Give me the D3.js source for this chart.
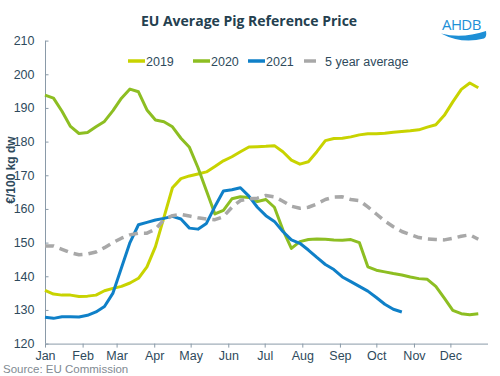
<!DOCTYPE html>
<html>
<head>
    <meta charset="utf-8">
    <script src="https://cdn.jsdelivr.net/npm/d3@7"></script>
    <style>
        body { margin: 0; background: #fff; }
        svg text { font-family: "Liberation Sans", Arial, sans-serif; }
    </style>
</head>
<body>
    <div id="chart">
        <svg width="500" height="376"></svg>
    </div>
    <script>
        // weekly prices, EUR / 100 kg dw
        var weeks = d3.range(1, 53)
        var months = ["Jan", "Feb", "Mar", "Apr", "May", "Jun", "Jul", "Aug", "Sep", "Oct", "Nov", "Dec"]
        var yTicks = [120, 130, 140, 150, 160, 170, 180, 190, 200, 210]

        var p2019 = [135.8, 134.7, 134.4, 134.4, 134.0, 134.1, 134.4, 135.7, 136.4, 137.0,
            138.0, 139.4, 142.8, 148.8, 157.5, 166.3, 169.0, 169.8, 170.4, 171.0,
            172.6, 174.3, 175.5, 177.0, 178.4, 178.5, 178.6, 178.8, 177.0, 174.5,
            173.3, 174.0, 177.0, 180.3, 180.9, 181.0, 181.4, 182.0, 182.3, 182.3,
            182.5, 182.8, 183.0, 183.2, 183.5, 184.3, 185.0, 187.8, 191.8, 195.5,
            197.4, 196.0]
        var p2020 = [193.8, 192.9, 189.0, 184.5, 182.4, 182.7, 184.4, 186.0, 189.2, 192.9,
            195.6, 194.8, 189.4, 186.4, 185.9, 184.4, 181.0, 178.3, 172.3, 165.4,
            158.5, 159.6, 163.0, 163.6, 163.4, 162.2, 162.8, 160.5, 153.8, 148.3,
            150.3, 150.9, 151.1, 151.0, 150.8, 150.7, 150.9, 150.0, 142.8, 141.8,
            141.3, 140.8, 140.4, 139.8, 139.3, 139.1, 137.0, 133.5, 129.9, 128.9,
            128.6, 128.9]
        var p2021 = [127.8, 127.5, 128.0, 128.0, 127.9, 128.4, 129.4, 131.0, 135.0, 142.5,
            150.0, 155.3, 156.0, 156.7, 157.2, 157.8, 157.0, 154.3, 154.0, 155.7,
            160.7, 165.3, 165.7, 166.3, 163.8, 160.5, 158.0, 156.3, 153.3, 150.8,
            149.8, 147.8, 145.6, 143.5, 142.0, 139.8, 138.4, 137.0, 135.6, 133.7,
            131.7, 130.2, 129.4]
        var avg5 = [149.0, 149.0, 148.0, 147.0, 146.4, 146.6, 147.2, 148.5, 150.0, 151.3,
            152.3, 152.8, 152.8, 154.0, 156.8, 158.0, 158.4, 157.9, 157.4, 157.0,
            156.8, 157.7, 160.5, 162.5, 163.0, 163.2, 164.0, 163.6, 162.3, 160.8,
            160.2, 160.5, 161.5, 162.8, 163.5, 163.6, 162.8, 162.5, 160.6, 158.5,
            156.4, 154.7, 153.3, 152.4, 151.5, 151.1, 150.9, 150.8, 151.3, 151.9,
            152.3, 151.0]

        var series = [
            { name: "2019", values: p2019, color: "#c8d300", dash: null },
            { name: "2020", values: p2020, color: "#8dbe22", dash: null },
            { name: "2021", values: p2021, color: "#0f80c8", dash: null },
            { name: "5 year average", values: avg5, color: "#a8a8a8", dash: "9,6" }
        ]

        var svg = d3.select("#chart svg")
        var textCol = "#2e4a5c"

        // week n starts 7*(n-1) days after 1 Jan
        var start = new Date(2021, 0, 1)
        function weekDate(w) {
            return d3.timeDay.offset(start, (w - 1) * 7)
        }

        var x = d3.scaleTime()
            .domain([start, new Date(2022, 0, 1)])
            .range([45, 488])
        var y = d3.scaleLinear()
            .domain([120, 210])
            .range([343.6, 40.6])

        // axes
        var xAxis = d3.axisBottom(x)
            .tickValues(d3.timeMonth.range(start, new Date(2022, 0, 1)))
            .tickFormat(function(d, i) { return months[i] })
            .tickSize(4)
            .tickPadding(4)
        var gx = svg.append("g")
            .attr("transform", "translate(0,343.6)")
            .call(xAxis)
        gx.select(".domain").attr("d", "M45,0.5H488")

        var yAxis = d3.axisLeft(y)
            .tickValues(yTicks)
            .tickSize(-3)
            .tickPadding(11)
        var gy = svg.append("g")
            .attr("transform", "translate(45.5,0)")
            .call(yAxis)
        gy.select(".domain").attr("d", "M0,40.6V343.6")

        svg.selectAll(".domain, .tick line")
            .attr("stroke", "#8a9aa8")
        svg.selectAll(".tick text")
            .attr("fill", textCol)
            .style("font-size", "12.5px")

        // lines
        var line = d3.line()
            .x(function(d, i) { return x(weekDate(weeks[i])) })
            .y(function(d) { return y(d) })

        svg.selectAll("path.series")
            .data(series)
            .enter()
            .append("path")
            .attr("class", "series")
            .attr("fill", "none")
            .attr("stroke", function(d) { return d.color })
            .attr("stroke-width", function(d) { return d.dash ? 3.5 : 3 })
            .attr("stroke-dasharray", function(d) { return d.dash })
            .attr("stroke-linejoin", "round")
            .attr("d", function(d) { return line(d.values) })

        // legend
        var legendX = [128, 193, 248, 304]
        var lg = svg.selectAll("g.legend")
            .data(series)
            .enter()
            .append("g")
            .attr("class", "legend")
            .attr("transform", function(d, i) { return "translate(" + legendX[i] + ",61)" })
        lg.append("line")
            .attr("x1", 0)
            .attr("x2", function(d) { return d.dash ? 12 : 17 })
            .attr("stroke", function(d) { return d.color })
            .attr("stroke-width", 3.5)
        lg.append("text")
            .attr("x", function(d) { return d.dash ? 21 : 18 })
            .attr("y", 4.5)
            .attr("fill", textCol)
            .style("font-size", "12.5px")
            .text(function(d) { return d.name })

        // titles
        svg.append("text")
            .attr("x", 249)
            .attr("y", 26)
            .attr("text-anchor", "middle")
            .attr("fill", "#24404f")
            .style("font-family", "'Open Sans', sans-serif")
            .style("font-weight", "bold")
            .style("font-size", "14px")
            .text("EU Average Pig Reference Price")

        svg.append("text")
            .attr("transform", "translate(14.5,170) rotate(-90)")
            .attr("text-anchor", "middle")
            .attr("fill", textCol)
            .style("font-weight", "bold")
            .style("font-size", "12px")
            .text("€/100 kg dw")

        svg.append("text")
            .attr("x", 3)
            .attr("y", 373)
            .attr("fill", "#7f8a92")
            .style("font-size", "11.5px")
            .text("Source: EU Commission")

        // AHDB logo
        var logo = svg.append("g").attr("transform", "translate(442,17)")
        logo.append("text")
            .attr("x", 0)
            .attr("y", 13)
            .attr("fill", "#1e8fd6")
            .style("font-family", "'Open Sans', sans-serif")
            .style("font-size", "15px")
            .style("letter-spacing", "-0.6px")
            .text("AHDB")
        logo.append("path")
            .attr("d", "M-1,16.5 Q20,22 44,14 Q45,20 42,21.5 Q20,27.5 -1,16.5 Z")
            .attr("fill", "#1e8fd6")
    </script>
</body>
</html>
